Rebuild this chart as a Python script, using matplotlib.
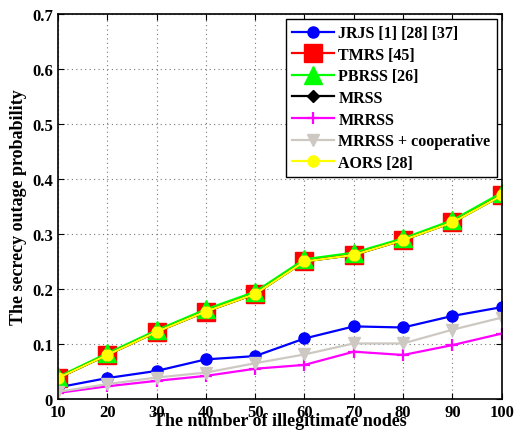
import matplotlib
matplotlib.use("Agg")
import matplotlib.pyplot as plt

plt.rcParams['font.family'] = ['Liberation Serif', 'DejaVu Serif']
plt.rcParams['font.weight'] = 'bold'

# data
nodes = [10, 20, 30, 40, 50, 60, 70, 80, 90, 100]
jrjs = [0.021, 0.038, 0.051, 0.072, 0.078, 0.110, 0.132, 0.130, 0.151, 0.167]
tmrs = [0.038, 0.080, 0.122, 0.159, 0.191, 0.251, 0.262, 0.289, 0.322, 0.371]
pbrss = [0.040, 0.083, 0.125, 0.163, 0.195, 0.254, 0.266, 0.292, 0.325, 0.375]
mrss = [0.038, 0.080, 0.122, 0.159, 0.191, 0.250, 0.262, 0.289, 0.321, 0.370]
mrrss = [0.011, 0.023, 0.033, 0.042, 0.055, 0.062, 0.086, 0.080, 0.098, 0.119]
mrrss_coop = [0.013, 0.027, 0.039, 0.048, 0.065, 0.081, 0.101, 0.101, 0.126, 0.148]
aors = [0.038, 0.080, 0.122, 0.159, 0.191, 0.250, 0.262, 0.289, 0.321, 0.370]

labels = ['JRJS [1] [28] [37]', 'TMRS [45]', 'PBRSS [26]', 'MRSS', 'MRRSS',
          'MRRSS + cooperative', 'AORS [28]']

fig = plt.figure(figsize=(5.26, 4.35), dpi=100)
ax = fig.add_axes([0.110, 0.0805, 0.844, 0.885])

lw = 1.6
ax.plot(nodes, jrjs, '-o', color='#0000ff', lw=lw, markersize=8, label=labels[0])
ax.plot(nodes, tmrs, '-s', color='#ff0000', lw=lw, markersize=13, label=labels[1])
ax.plot(nodes, pbrss, '-^', color='#00ff00', lw=lw, markersize=13, label=labels[2])
ax.plot(nodes, mrss, '-D', color='black', lw=lw, markersize=6, label=labels[3])
ax.plot(nodes, mrrss, '-+', color='#ff00ff', lw=lw, markersize=8, mew=1.6, label=labels[4])
ax.plot(nodes, mrrss_coop, '-v', color='#cdc9c2', lw=lw, markersize=9, label=labels[5])
ax.plot(nodes, aors, '-o', color='#ffff00', lw=lw, markersize=8, label=labels[6])

ax.set_xlim(10, 100)
ax.set_ylim(0, 0.7)
ax.set_xticks(nodes)
ax.set_yticks([0, 0.1, 0.2, 0.3, 0.4, 0.5, 0.6, 0.7])
ax.set_yticklabels(['0', '0.1', '0.2', '0.3', '0.4', '0.5', '0.6', '0.7'])
ax.tick_params(direction='in', top=True, right=True, labelsize=12, length=4, width=0.8)
for lab in ax.get_xticklabels() + ax.get_yticklabels():
    lab.set_fontweight('bold')
ax.grid(True, linestyle=(0, (1, 3)), color='#777777', linewidth=0.8)
for s in ax.spines.values():
    s.set_linewidth(1.2)

ax.set_xlabel('The number of illegitimate nodes', fontsize=13, fontweight='bold', labelpad=-6)
ax.set_ylabel('The secrecy outage probability', fontsize=13, fontweight='bold', labelpad=4)

leg = ax.legend(loc='upper right', fontsize=11.5, handlelength=2.6, borderpad=0.4,
                labelspacing=0.35, handletextpad=0.3, fancybox=False, framealpha=1,
                edgecolor='black', borderaxespad=0.3)
leg.get_frame().set_linewidth(1.0)
for t in leg.get_texts():
    t.set_fontweight('bold')

fig.savefig('out.png', dpi=100)
